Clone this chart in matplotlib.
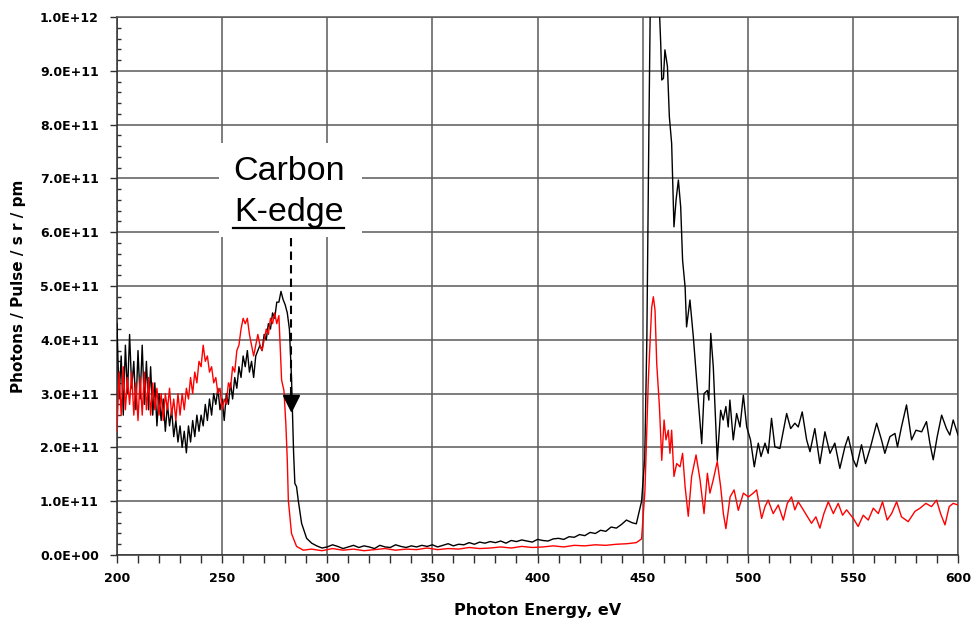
import numpy as np
import matplotlib
matplotlib.use('Agg')
import matplotlib.pyplot as plt
from matplotlib.ticker import MultipleLocator, FuncFormatter
from matplotlib.patches import Rectangle

# spectra, intensity in units of 1E+11 photons/pulse/sr/pm
black_ev = [200, 201, 202, 203, 204, 205, 206, 207, 208, 209,
            210, 211, 212, 213, 214, 215, 216, 217, 218, 219,
            220, 221, 222, 223, 224, 225, 226, 227, 228, 229,
            230, 231, 232, 233, 234, 235, 236, 237, 238, 239,
            240, 241, 242, 243, 244, 245, 246, 247, 248, 249,
            250, 251, 252, 253, 254, 255, 256, 257, 258, 259,
            260, 261, 262, 263, 264, 265, 266, 267, 268, 269,
            270, 271, 272, 273, 274, 275, 276, 277, 278, 279,
            280, 281, 282, 283, 283.5, 284, 284.6, 285.4, 286.2, 287.8,
            290.2, 292.6, 295, 297.5, 300, 302.5, 305, 307.5, 310, 312.5,
            315, 317.5, 320, 322.5, 325, 327.5, 330, 332.5, 335, 337.5,
            340, 342.5, 345, 347.5, 350, 352.5, 355, 357.5, 360, 362.5,
            365, 367.5, 370, 372.5, 375, 377.5, 380, 382.5, 385, 387.5,
            390, 392.5, 395, 397.5, 400, 402.5, 405, 407.5, 410, 412.5,
            415, 417.5, 420, 422.5, 425, 427.5, 430, 432.5, 435, 437.5,
            440, 442.3, 445, 447, 449.5, 451, 452, 453, 454, 455.5,
            457.3, 458, 458.6, 459.1, 459.9, 460.6, 461.8, 462.7, 463.8, 464.6,
            464.9, 465.9, 467, 468.1, 469, 470.2, 470.9, 472.5, 474.1, 475.7,
            478.1, 479.2, 480.8, 481.5, 482.4, 483.6, 485.5, 487.1, 488.3, 489.6,
            490.7, 491.5, 493.1, 494.7, 496.3, 497.9, 499.5, 501.3, 503.1, 505.0,
            506.3, 508.2, 509.7, 511.3, 512.9, 515.3, 518.5, 520.4, 522.4, 524.0,
            525.9, 528.0, 529.6, 531.9, 534.3, 536.7, 539.1, 541.4, 543.8, 546.2,
            547.8, 550.2, 551.7, 554.1, 556.0, 558.4, 561.3, 563.6, 565.2, 567.6,
            570.0, 571.2, 573.1, 575.5, 577.9, 580.0, 582.7, 585.0, 586.6, 588.2,
            590.1, 592.2, 594.5, 596.1, 597.7, 600.0]
black_val = [4.3, 2.9, 3.7, 2.6, 3.9, 3.0, 4.1, 3.1, 3.6, 2.7,
             3.8, 2.9, 3.9, 2.8, 3.6, 2.7, 3.5, 2.6, 3.2, 2.4,
             3.0, 2.5, 2.9, 2.3, 2.8, 2.4, 2.7, 2.2, 2.5, 2.1,
             2.4, 2.0, 2.3, 1.9, 2.4, 2.1, 2.5, 2.2, 2.6, 2.3,
             2.6, 2.4, 2.8, 2.5, 2.9, 2.6, 3.0, 2.8, 3.1, 2.7,
             2.9, 2.5, 3.0, 2.8, 3.2, 2.9, 3.3, 3.1, 3.5, 3.3,
             3.7, 3.5, 3.8, 3.4, 3.6, 3.3, 3.7, 3.8, 3.9, 3.8,
             4.1, 4.0, 4.3, 4.2, 4.5, 4.4, 4.7, 4.7, 4.9, 4.75,
             4.65, 4.5, 4.2, 3.3, 2.6, 1.9, 1.33, 1.27, 1.02, 0.59,
             0.31, 0.22, 0.17, 0.13, 0.15, 0.19, 0.16, 0.12, 0.15, 0.18,
             0.14, 0.17, 0.15, 0.12, 0.18, 0.15, 0.14, 0.19, 0.16, 0.14,
             0.17, 0.15, 0.18, 0.16, 0.19, 0.15, 0.18, 0.21, 0.17, 0.2,
             0.19, 0.23, 0.2, 0.24, 0.22, 0.25, 0.23, 0.26, 0.22, 0.27,
             0.25, 0.28, 0.26, 0.24, 0.29, 0.27, 0.26, 0.3, 0.31, 0.29,
             0.34, 0.33, 0.38, 0.36, 0.42, 0.4, 0.46, 0.44, 0.52, 0.5,
             0.57, 0.65, 0.6, 0.58, 1.0, 1.8, 4.0, 8.0, 11.5, 12.5,
             10.3, 10.1, 9.51, 8.83, 8.86, 9.39, 9.08, 8.15, 7.65, 6.54,
             6.1, 6.6, 6.97, 6.47, 5.48, 4.98, 4.24, 4.74, 4.06, 3.25,
             2.07, 3.0, 3.06, 2.88, 4.12, 3.5, 1.76, 2.69, 2.51, 2.76,
             2.38, 2.88, 2.14, 2.63, 2.38, 2.97, 2.38, 2.14, 1.64, 2.08,
             1.83, 2.08, 1.89, 2.54, 2.01, 1.98, 2.63, 2.35, 2.45, 2.38,
             2.66, 2.14, 1.92, 2.35, 1.70, 2.29, 1.89, 2.08, 1.61, 2.01,
             2.20, 1.77, 1.64, 2.05, 1.70, 2.01, 2.45, 2.14, 1.89, 2.20,
             2.26, 2.01, 2.38, 2.79, 2.14, 2.32, 2.29, 2.48, 2.08, 1.77,
             2.20, 2.60, 2.35, 2.23, 2.51, 2.23]

red_ev = [200, 201, 202, 203, 204, 205, 206, 207, 208, 209,
          210, 211, 212, 213, 214, 215, 216, 217, 218, 219,
          220, 221, 222, 223, 224, 225, 226, 227, 228, 229,
          230, 231, 232, 233, 234, 235, 236, 237, 238, 239,
          240, 241, 242, 243, 244, 245, 246, 247, 248, 249,
          250, 251, 252, 253, 254, 255, 256, 257, 258, 259,
          260, 261, 262, 263, 264, 265, 266, 267, 268, 269,
          270, 271, 272, 273, 274, 275, 276, 277, 277.5, 278.3,
          279.4, 280.3, 281, 281.5, 283, 285.4, 288.6, 292.5, 297.5, 302.5,
          307.5, 312.5, 317.5, 322.5, 327.5, 332.5, 337.5, 342.5, 347.5, 352.5,
          357.5, 362.5, 367.5, 372.5, 377.5, 382.5, 387.5, 392.5, 397.5, 402.5,
          407.5, 412.5, 417.5, 422.5, 427.5, 432.5, 437.5, 442.5, 447, 449.5,
          451.1, 452.7, 454.3, 455.1, 455.9, 456.7, 458.0, 459.1, 460.2, 461.1,
          462.2, 463.0, 463.8, 464.9, 466.2, 467.8, 469.0, 470.2, 471.7, 473.3,
          475.4, 477.3, 479.2, 480.8, 482.0, 483.6, 485.5, 487.1, 488.4, 489.6,
          491.6, 493.5, 495.5, 497.9, 500.3, 502.6, 504.2, 506.6, 508.2, 509.7,
          512.1, 514.5, 516.9, 518.8, 520.8, 522.4, 524.0, 526.4, 530.3, 532.4,
          534.3, 536.2, 538.3, 540.7, 543.0, 545.1, 547.0, 550.2, 552.5, 554.9,
          557.3, 559.7, 562.1, 564.1, 566.3, 568.4, 570.8, 573.1, 576.3, 579.5,
          581.9, 584.7, 587.4, 589.8, 591.7, 593.8, 595.8, 597.7, 600.0]
red_val = [2.3, 3.4, 2.6, 3.5, 2.7, 3.3, 2.8, 3.4, 2.6, 3.2,
           2.5, 3.3, 2.6, 3.4, 2.7, 3.3, 2.6, 3.2, 2.7, 3.1,
           2.6, 3.0, 2.5, 3.0, 2.7, 3.1, 2.6, 2.9, 2.5, 3.0,
           2.6, 3.0, 2.7, 3.1, 2.9, 3.3, 3.0, 3.4, 3.2, 3.6,
           3.5, 3.9, 3.6, 3.7, 3.4, 3.5, 3.2, 3.3, 3.0, 3.1,
           2.7, 2.9, 2.8, 3.2, 3.1, 3.5, 3.4, 3.8, 3.9, 4.2,
           4.4, 4.3, 4.4, 4.1, 3.9, 3.7, 3.9, 4.1, 3.9, 3.8,
           4.0, 4.2, 4.1, 4.4, 4.3, 4.5, 4.3, 4.45, 4.0, 3.25,
           3.06, 2.45, 1.76, 1.02, 0.40, 0.16, 0.09, 0.11, 0.08, 0.12,
           0.09, 0.11, 0.08, 0.1, 0.12, 0.09, 0.11, 0.1, 0.13, 0.1,
           0.12, 0.11, 0.14, 0.12, 0.13, 0.15, 0.13, 0.16, 0.14, 0.15,
           0.17, 0.15, 0.18, 0.17, 0.19, 0.18, 0.2, 0.21, 0.23, 0.3,
           1.2, 3.25, 4.6, 4.8, 4.55, 3.56, 2.75, 1.76, 2.51, 2.14,
           2.32, 1.89, 2.32, 1.46, 1.70, 1.64, 1.89, 1.27, 0.72, 1.46,
           1.86, 1.4, 0.77, 1.52, 1.15, 1.4, 1.74, 1.27, 0.77, 0.49,
           1.08, 1.21, 0.83, 1.15, 1.08, 1.15, 1.21, 0.68, 0.9, 1.02,
           0.77, 0.93, 0.65, 0.96, 1.08, 0.84, 0.99, 0.84, 0.59, 0.71,
           0.50, 0.77, 0.99, 0.77, 0.96, 0.74, 0.84, 0.68, 0.53, 0.74,
           0.65, 0.87, 0.77, 0.99, 0.65, 0.77, 0.99, 0.71, 0.62, 0.81,
           0.87, 0.96, 0.9, 1.02, 0.77, 0.56, 0.9, 0.96, 0.93]

scale = 1e11
edge_ev = 282.8

fig = plt.figure(figsize=(9.74, 6.33), dpi=100)
ax = fig.add_axes([0.1201, 0.1232, 0.8635, 0.8499])

ax.plot(black_ev, np.array(black_val) * scale, color='black', lw=1.0, zorder=3)
ax.plot(red_ev, np.array(red_val) * scale, color='#ff0000', lw=1.0, zorder=3)

ax.set_xlim(200, 600)
ax.set_ylim(0, 1e12)
ax.xaxis.set_major_locator(MultipleLocator(50))
ax.xaxis.set_minor_locator(MultipleLocator(10))
ax.yaxis.set_major_locator(MultipleLocator(1e11))
ax.yaxis.set_minor_locator(MultipleLocator(2e10))
ax.yaxis.set_major_formatter(FuncFormatter(lambda v, p: f'{v:.1E}'))

ax.set_axisbelow(True)
ax.grid(True, which='major', color='#5a5a5a', lw=1.1)
for s in ax.spines.values():
    s.set_color('#5a5a5a')
    s.set_linewidth(1.1)
ax.spines['left'].set_color('#303030')
ax.spines['bottom'].set_color('#303030')

ax.tick_params(axis='x', which='both', direction='out', length=6, width=1.0,
               color='#303030', pad=6, labelsize=9)
ax.tick_params(axis='y', which='major', direction='out', length=5, width=1.0,
               color='#303030', pad=8, labelsize=9)
ax.tick_params(axis='y', which='minor', direction='in', length=3, width=1.0,
               color='#303030')
for lab in ax.get_xticklabels() + ax.get_yticklabels():
    lab.set_fontweight('bold')

ax.set_xlabel('Photon Energy, eV', fontsize=11.5, fontweight='bold', labelpad=13)
ax.set_ylabel('Photons / Pulse / s r / pm', fontsize=11, fontweight='bold', labelpad=10)

# white label box cutting through the grid
ax.add_patch(Rectangle((248.5, 5.91e11), 68, 1.75e11, facecolor='white',
                       edgecolor='none', zorder=1))
ax.text(281.8, 7.12e11, 'Carbon', ha='center', va='center', fontsize=24.5,
        family='Liberation Sans', zorder=4)
ax.text(281.8, 6.36e11, 'K-edge', ha='center', va='center', fontsize=24.5,
        family='Liberation Sans', zorder=4)
ax.plot([255.2, 308.0], [6.08e11, 6.08e11], color='black', lw=1.6, zorder=4)

# dashed arrow down to the edge
ax.plot([edge_ev, edge_ev], [5.9e11, 2.95e11], color='black', lw=1.5,
        ls=(0, (4, 2.5)), zorder=4)
ax.plot([edge_ev], [2.82e11], marker='v', color='black', markersize=12, zorder=5)

fig.savefig('out.png', dpi=100)
